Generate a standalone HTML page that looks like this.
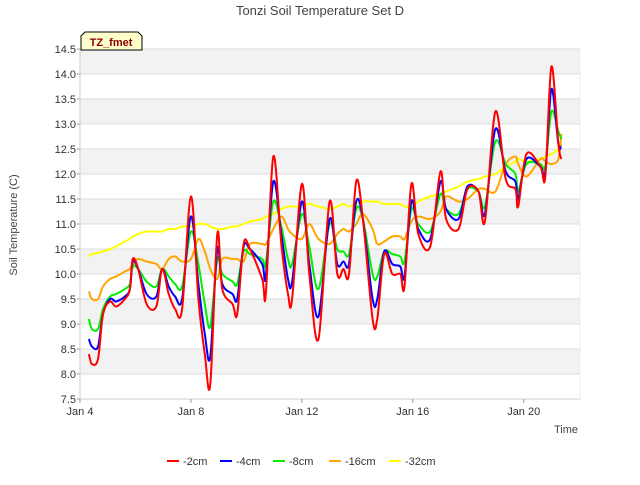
<!DOCTYPE html>
<html><head><meta charset="utf-8"><style>
body{margin:0;background:#fff;font-family:"Liberation Sans","DejaVu Sans",sans-serif}
</style></head><body>
<svg width="640" height="480" xmlns="http://www.w3.org/2000/svg">
<g id="bands"></g>
<g id="grid"></g>
<g id="axes"></g>
<g id="series"></g>
<text x="320" y="15" text-anchor="middle" font-size="13" fill="#444">Tonzi Soil Temperature Set D</text>
<text transform="translate(17,225) rotate(-90)" text-anchor="middle" font-size="11" fill="#444">Soil Temperature (C)</text>
<text x="578" y="433" text-anchor="end" font-size="11" fill="#444">Time</text>
<g><path d="M81,50 L81,36 L85,32 L138,32 L142,36 L142,50 Z" fill="#ffffcc" stroke="#000"/><text x="111" y="46" text-anchor="middle" font-size="11" font-weight="bold" fill="#8b0000">TZ_fmet</text></g>
<g id="legend"></g>
</svg>
<script>
const times=[4.32,4.43,4.65,4.83,5.08,5.3,5.62,5.8,5.9,6.1,6.4,6.75,6.96,7.2,7.43,7.68,8.0,8.27,8.5,8.7,8.95,9.13,9.5,9.67,9.9,10.13,10.57,10.7,10.97,11.26,11.5,11.65,12.0,12.27,12.6,13.0,13.28,13.5,13.7,13.96,14.2,14.55,14.72,14.97,15.26,15.55,15.7,15.95,16.2,16.63,17.0,17.2,17.65,17.97,18.37,18.6,18.98,19.35,19.7,19.8,20.1,20.6,20.78,21.0,21.25,21.36];
const s2=[8.4,8.2,8.3,9.2,9.45,9.35,9.5,9.7,10.3,10.1,9.4,9.35,10.1,9.6,9.3,9.3,11.55,9.5,8.4,7.8,10.8,9.7,9.4,9.2,10.6,10.5,9.9,9.6,12.35,10.6,9.6,9.5,11.8,10.0,8.7,11.45,10.0,10.1,10.0,11.85,11.1,9.1,9.1,10.4,10.0,10.0,9.75,11.8,10.8,10.55,12.05,11.1,10.9,11.7,11.65,11.05,13.25,11.9,11.7,11.35,12.4,12.15,11.95,14.15,12.6,12.3];
const s4=[8.7,8.55,8.55,9.2,9.5,9.45,9.55,9.7,10.25,10.1,9.6,9.55,10.1,9.75,9.55,9.5,11.15,9.8,8.8,8.35,10.5,9.8,9.6,9.5,10.55,10.5,10.2,9.95,11.85,10.8,9.9,9.85,11.45,10.2,9.15,11.1,10.2,10.25,10.2,11.45,11.1,9.5,9.5,10.45,10.2,10.15,9.95,11.45,10.9,10.7,11.85,11.3,11.1,11.75,11.65,11.2,12.9,12.05,11.85,11.5,12.3,12.15,12.05,13.7,12.6,12.55];
const s8=[9.1,8.9,8.9,9.3,9.55,9.6,9.7,9.8,10.15,10.1,9.85,9.75,10.1,9.95,9.8,9.75,10.85,10.2,9.4,8.95,10.3,10.0,9.85,9.8,10.45,10.4,10.3,10.2,11.45,10.95,10.3,10.2,11.2,10.55,9.7,11.0,10.5,10.45,10.4,11.3,11.1,10.0,9.95,10.45,10.4,10.35,10.25,11.3,11.0,10.85,11.6,11.3,11.2,11.7,11.65,11.35,12.65,12.2,12.0,11.65,12.2,12.2,12.15,13.25,12.85,12.7];
const s16=[9.65,9.5,9.5,9.75,9.9,9.95,10.05,10.1,10.2,10.3,10.25,10.2,10.1,10.3,10.35,10.25,10.3,10.7,10.45,10.1,9.9,10.3,10.3,10.3,10.25,10.6,10.6,10.6,10.9,11.15,10.9,10.8,10.7,11.0,10.7,10.6,10.8,10.9,10.85,11.0,11.2,10.9,10.6,10.65,10.75,10.75,10.7,11.05,11.15,11.1,11.25,11.55,11.45,11.5,11.7,11.7,11.65,12.2,12.35,12.2,11.95,12.3,12.25,12.2,12.3,12.8];
const s32=[10.35,10.4,10.42,10.45,10.5,10.55,10.65,10.7,10.75,10.8,10.85,10.85,10.85,10.9,10.9,10.95,10.95,11.0,11.0,10.95,10.9,10.9,10.95,10.95,11.0,11.05,11.1,11.15,11.2,11.3,11.35,11.35,11.35,11.4,11.35,11.3,11.35,11.4,11.35,11.4,11.45,11.45,11.45,11.4,11.4,11.4,11.35,11.35,11.45,11.55,11.6,11.65,11.75,11.85,11.9,11.95,12.0,12.15,12.25,12.3,12.25,12.3,12.35,12.4,12.5,12.6];
const yTicks=[7.5,8.0,8.5,9.0,9.5,10.0,10.5,11.0,11.5,12.0,12.5,13.0,13.5,14.0,14.5];
const xTickDays=[4,8,12,16,20];
const xTickLabels=["Jan 4","Jan 8","Jan 12","Jan 16","Jan 20"];
const seriesNames=["-2cm","-4cm","-8cm","-16cm","-32cm"];
const colors=["#ff0000","#0000ff","#00ee00","#ffa500","#ffff00"];
const seriesData=[s2,s4,s8,s16,s32];

const L=80,R=580,T=49,B=399,ymin=7.5,ymax=14.5,xmin=4,xmax=22.03;
const X=d=>L+(d-xmin)/(xmax-xmin)*(R-L);
const Y=v=>B-(v-ymin)/(ymax-ymin)*(B-T);
const NS="http://www.w3.org/2000/svg";
function mk(tag,attrs,parent){const e=document.createElementNS(NS,tag);for(const k in attrs)e.setAttribute(k,attrs[k]);parent.appendChild(e);return e;}
const bands=document.getElementById('bands'),grid=document.getElementById('grid'),axes=document.getElementById('axes'),ser=document.getElementById('series'),leg=document.getElementById('legend');
mk('rect',{x:L,y:T,width:R-L,height:B-T,fill:'#fff'},bands);
for(let i=0;i<yTicks.length-1;i++){
  if(i%2===1){const r=mk('rect',{x:L,y:Y(yTicks[i+1]),width:R-L,height:Y(yTicks[i])-Y(yTicks[i+1]),fill:'#f2f2f2'},bands);
  
  }
}
yTicks.forEach(v=>{
  const l=mk('line',{x1:L,x2:R,y1:Y(v),y2:Y(v),stroke:'#dcdcdc','stroke-width':1},grid);
  
  
  const t=mk('text',{x:L-4,y:Y(v)+4,'text-anchor':'end','font-size':11,fill:'#333'},axes);
  
  
  t.textContent=v.toFixed(1);
  mk('line',{x1:L-3,x2:L,y1:Y(v),y2:Y(v),stroke:'#999'},axes);
});
mk('line',{x1:L,x2:L,y1:T,y2:B,stroke:'#ccc'},axes);
mk('line',{x1:L,x2:R,y1:B,y2:B,stroke:'#ccc'},axes);
mk('line',{x1:R,x2:R,y1:T,y2:B,stroke:'#eee'},axes);
xTickDays.forEach((d,i)=>{
  mk('line',{x1:X(d),x2:X(d),y1:B,y2:B+4,stroke:'#999'},axes);
  const t=mk('text',{x:X(d),y:B+16,'text-anchor':'middle','font-size':11,fill:'#333'},axes);
  
  
  t.textContent=xTickLabels[i];
});
function smooth(pts){let d='M'+pts[0][0].toFixed(1)+','+pts[0][1].toFixed(1);
  for(let i=0;i<pts.length-1;i++){const p0=pts[Math.max(0,i-1)],p1=pts[i],p2=pts[i+1],p3=pts[Math.min(pts.length-1,i+2)];
    const c1=[p1[0]+(p2[0]-p0[0])/6,p1[1]+(p2[1]-p0[1])/6],c2=[p2[0]-(p3[0]-p1[0])/6,p2[1]-(p3[1]-p1[1])/6];
    d+=' C'+c1.map(n=>n.toFixed(1)).join(',')+' '+c2.map(n=>n.toFixed(1)).join(',')+' '+p2[0].toFixed(1)+','+p2[1].toFixed(1);}
  return d;}
for(let s=seriesData.length-1;s>=0;s--){
  const pts=times.map((t,i)=>[X(t),Y(seriesData[s][i])]);
  const p=mk('path',{d:smooth(pts),fill:'none',stroke:colors[s],'stroke-width':2,'stroke-linejoin':'round'},ser);
  
  
}
const lx=[167,220,273,329,389];
seriesNames.forEach((n,i)=>{
  const g=mk('g',{},leg);
  
  
  mk('line',{x1:lx[i],x2:lx[i]+12,y1:461,y2:461,stroke:colors[i],'stroke-width':2},g);
  const t=mk('text',{x:lx[i]+16,y:465,'font-size':11,fill:'#333'},g);
  t.textContent=n;
});
</script>
</body></html>
